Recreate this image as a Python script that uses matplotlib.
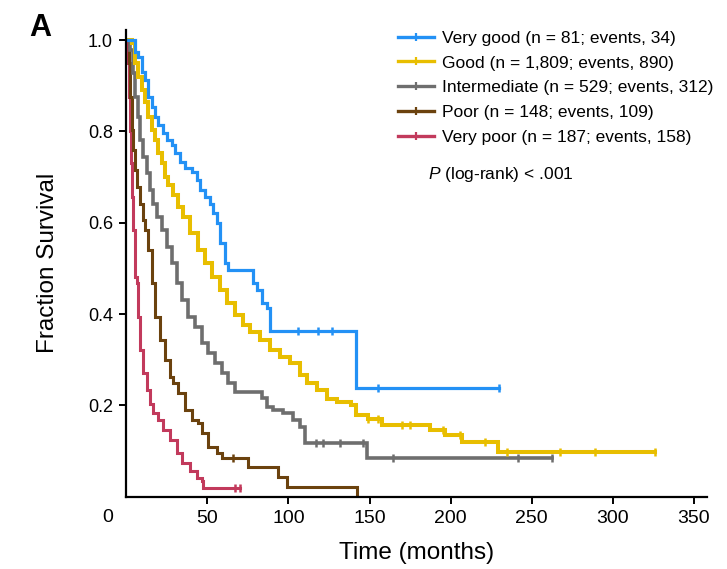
import numpy as np
import matplotlib
matplotlib.use("Agg")
import matplotlib.pyplot as plt
from matplotlib.lines import Line2D

# Kaplan-Meier step points (months, survival fraction) for each risk group
vgood_t = [0, 5.4, 7.5, 9.6, 11.6, 13.6, 15.7, 17.8, 19.8, 22.9, 25, 28.1,
           30.1, 33.2, 36.3, 40.4, 43.5, 45.5, 48.6, 51.7, 53.7, 56, 57.8,
           60.9, 62.8, 78.2, 80.6, 83.7, 86.8, 88.6, 141.7, 230]
vgood_s = [1.0, 0.974, 0.963, 0.931, 0.912, 0.876, 0.854, 0.832, 0.814,
           0.796, 0.781, 0.770, 0.752, 0.734, 0.719, 0.712, 0.693, 0.671,
           0.657, 0.642, 0.621, 0.599, 0.555, 0.512, 0.497, 0.468, 0.453,
           0.424, 0.413, 0.362, 0.238, 0.238]
vgood_cens = [106, 118, 127, 155, 230]

good_t = [0, 3.4, 5.4, 7.5, 9.6, 11.6, 13.6, 15.7, 17.8, 19.8, 21.9, 23.9,
          26, 29, 32.1, 35.2, 39.3, 44.3, 48.6, 52.9, 57.8, 62.1, 67, 71.9,
          76.2, 82.5, 88.6, 94.8, 100.9, 107.1, 111.4, 117.6, 123.8, 130,
          138.6, 141.7, 149.1, 157.7, 187.3, 196.6, 207, 229.2, 326]
good_s = [1.0, 0.993, 0.949, 0.920, 0.891, 0.865, 0.832, 0.803, 0.781, 0.752,
          0.730, 0.701, 0.683, 0.661, 0.635, 0.613, 0.577, 0.540, 0.512,
          0.481, 0.453, 0.424, 0.398, 0.376, 0.361, 0.343, 0.321, 0.306,
          0.292, 0.266, 0.249, 0.233, 0.215, 0.207, 0.200, 0.178, 0.170,
          0.157, 0.146, 0.135, 0.120, 0.098, 0.098]
good_cens = [149.1, 155.3, 170, 175, 195.3, 205.8, 221.2, 234.8, 267.4, 289,
             326]

inter_t = [0, 2.3, 4.4, 5.4, 7.5, 8.5, 10.5, 12.6, 14.7, 16.7, 18.8, 22.1,
           25.2, 28.2, 31.3, 34.4, 38.1, 42.4, 46.7, 50.4, 54.7, 59.1, 62.8,
           67.1, 83.7, 86.8, 90.5, 96.7, 102.8, 107.1, 110.2, 148.5, 262.5]
inter_s = [1.0, 0.978, 0.927, 0.876, 0.832, 0.781, 0.744, 0.708, 0.672, 0.642,
           0.613, 0.584, 0.547, 0.512, 0.468, 0.431, 0.394, 0.372, 0.337,
           0.315, 0.293, 0.271, 0.249, 0.229, 0.216, 0.197, 0.190, 0.183,
           0.168, 0.153, 0.118, 0.085, 0.085]
inter_cens = [116.9, 121.4, 131.8, 146, 164.5, 241.5, 262.5]

poor_t = [0, 1.7, 2.3, 3.4, 4.4, 5.4, 6.5, 8.5, 10.5, 11.6, 13.4, 15.9, 17.8,
          20.8, 23.9, 27, 28.9, 31.9, 36.3, 40.6, 44.3, 46.7, 50.4, 56, 59.1,
          75.1, 93.6, 99.1, 142.3, 142.8]
poor_s = [1.0, 0.949, 0.876, 0.803, 0.760, 0.716, 0.679, 0.642, 0.606, 0.584,
          0.540, 0.468, 0.394, 0.344, 0.300, 0.263, 0.249, 0.227, 0.190,
          0.168, 0.162, 0.140, 0.109, 0.096, 0.085, 0.065, 0.043, 0.021, 0.0,
          0.0]
poor_cens = [65.8]

vpoor_t = [0, 0.8, 1.6, 2.2, 2.8, 3.4, 4.2, 5.4, 6.7, 7.3, 8.5, 10.4, 12.8,
           14.7, 16.5, 19.6, 22.7, 27, 31.3, 34.4, 39.3, 43.6, 46.7, 47.3, 70.2]
vpoor_s = [1.0, 0.95, 0.875, 0.80, 0.73, 0.656, 0.584, 0.481, 0.468, 0.394,
           0.321, 0.271, 0.233, 0.204, 0.183, 0.167, 0.146, 0.124, 0.095,
           0.073, 0.057, 0.042, 0.035, 0.019, 0.019]
vpoor_cens = [67, 70.2]

labels = ["Very good (n = 81; events, 34)",
          "Good (n = 1,809; events, 890)",
          "Intermediate (n = 529; events, 312)",
          "Poor (n = 148; events, 109)",
          "Very poor (n = 187; events, 158)"]
colors = ["#2391F5", "#E8BE00", "#6E6E6E", "#6B420E", "#C23A5C"]

groups = [(vgood_t, vgood_s, vgood_cens),
          (good_t, good_s, good_cens),
          (inter_t, inter_s, inter_cens),
          (poor_t, poor_s, poor_cens),
          (vpoor_t, vpoor_s, vpoor_cens)]

plt.rcParams["font.family"] = ["Liberation Sans", "DejaVu Sans"]
plt.rcParams["mathtext.fontset"] = "custom"
plt.rcParams["mathtext.it"] = "Liberation Sans:italic"
plt.rcParams["mathtext.rm"] = "Liberation Sans"

fig = plt.figure(figsize=(7.27, 5.69), dpi=100)
ax = fig.add_axes([0.1736, 0.1271, 0.7989, 0.8202])

widths = [2.3, 2.9, 2.6, 2.2, 2.2]
# draw curves back to front so the blue one sits on top
for (t, s, cens), c, lw in reversed(list(zip(groups, colors, widths))):
    t = np.asarray(t, dtype=float)
    s = np.asarray(s, dtype=float)
    ax.plot(t, s, drawstyle="steps-post", color=c, lw=lw,
            solid_joinstyle="miter")
    ct = np.asarray(cens, dtype=float)
    idx = np.searchsorted(t, ct, side="right") - 1
    ax.plot(ct, s[idx], ls="none", marker="|", color=c, ms=6, mew=1.8)

ax.set_xlim(0, 358)
ax.set_ylim(0, 1.022)
ax.set_xticks([50, 100, 150, 200, 250, 300, 350])
ax.set_yticks([0.2, 0.4, 0.6, 0.8, 1.0])
ax.set_yticklabels(["0.2", "0.4", "0.6", "0.8", "1.0"])
ax.tick_params(axis="both", direction="out", length=5, width=1.4,
               colors="black")
ax.tick_params(axis="x", pad=4.5, labelsize=14)
ax.tick_params(axis="y", pad=4.5, labelsize=13)
for side in ["top", "right"]:
    ax.spines[side].set_visible(False)
for side in ["left", "bottom"]:
    ax.spines[side].set_linewidth(1.6)

# shared origin label
ax.annotate("0", xy=(0, 0), xycoords="axes fraction", xytext=(-13.5, -8.6),
            textcoords="offset points", ha="center", va="top", fontsize=14)

ax.set_xlabel("Time (months)", fontsize=17.5, labelpad=11)
ax.set_ylabel("Fraction Survival", fontsize=17.5, labelpad=21)

handles = [Line2D([], [], color=c, lw=2.4, marker="|", ms=6, mew=1.6)
           for c in colors]
fig.legend(handles, labels, loc="upper left", bbox_to_anchor=(0.5475, 0.9464),
           frameon=False, fontsize=12.5, handlelength=2.05, handletextpad=0.5,
           labelspacing=0.56, borderpad=0, borderaxespad=0, numpoints=1)

fig.text(0.589, 0.694, r"$\it{P}$ (log-rank) < .001", fontsize=12.5,
         va="center", ha="left")
fig.text(0.04, 0.95, "A", fontsize=22, fontweight="bold", va="center")

fig.savefig("out.png", dpi=100)
